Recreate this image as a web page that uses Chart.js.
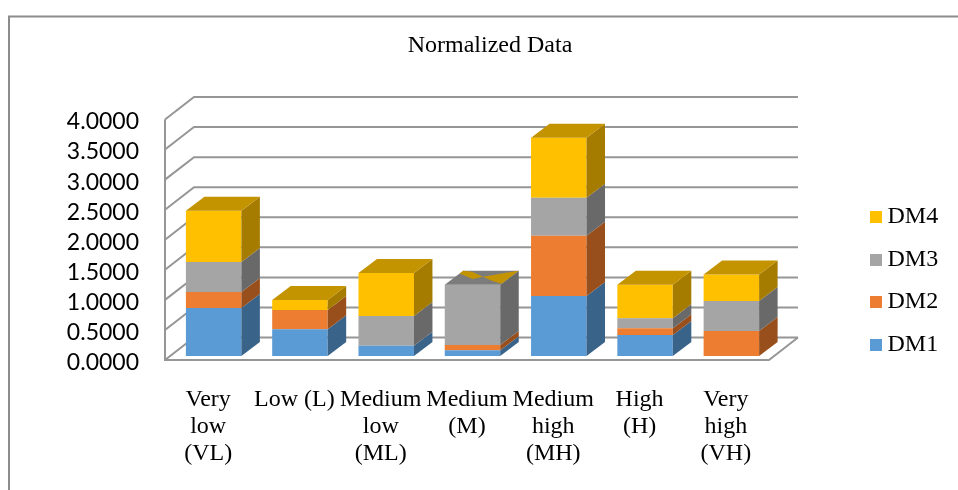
<!DOCTYPE html>
<html>
<head>
<meta charset="utf-8">
<title>Normalized Data</title>
<script src="https://cdn.jsdelivr.net/npm/chart.js@4/dist/chart.umd.min.js"></script>
<style>
  html, body { margin: 0; padding: 0; background: #fff; overflow: hidden; }
  canvas { display: block; }
</style>
</head>
<body>
<canvas id="chart" width="958" height="490"></canvas>
<script>
// values
const categories = [
  ['Very', 'low', '(VL)'],
  'Low (L)',
  ['Medium', 'low', '(ML)'],
  ['Medium', '(M)'],
  ['Medium', 'high', '(MH)'],
  ['High', '(H)'],
  ['Very', 'high', '(VH)']
];
const dm1 = [0.80, 0.444, 0.17, 0.095, 1.00, 0.35, 0];
const dm2 = [0.265, 0.32, 0, 0.088, 1.00, 0.11, 0.416];
const dm3 = [0.50, 0, 0.495, 1.003, 0.63, 0.167, 0.50];
const dm4 = [0.85, 0.167, 0.715, 0, 1.00, 0.56, 0.44];

const FRONT = ['#5B9BD5', '#ED7D31', '#A5A5A5', '#FFC000'];
const SIDE = ['#3A638A', '#994F1C', '#696969', '#A67C00'];
const TOP = ['#4A7EAE', '#BE6427', '#7C7C7C', '#C49300'];

const GRID_COLOR = '#969696';
const SERIF = '"Liberation Serif", serif';

// small square used as legend marker
function swatch(color) {
  const c = document.createElement('canvas');
  c.width = 14;
  c.height = 12;
  const g = c.getContext('2d');
  g.fillStyle = color;
  g.fillRect(2, 0, 12, 12);
  return c;
}

function quad(ctx, color, pts) {
  ctx.fillStyle = color;
  ctx.beginPath();
  ctx.moveTo(pts[0][0], pts[0][1]);
  for (let i = 1; i < pts.length; i++) ctx.lineTo(pts[i][0], pts[i][1]);
  ctx.closePath();
  ctx.fill();
}

// outer frame, only left and top are visible in the picture
const framePlugin = {
  id: 'frame',
  beforeDraw(chart) {
    const ctx = chart.ctx;
    ctx.save();
    ctx.strokeStyle = '#8c8c8c';
    ctx.lineWidth = 2;
    ctx.beginPath();
    ctx.moveTo(9, 490);
    ctx.lineTo(9, 16.5);
    ctx.lineTo(958, 16.5);
    ctx.stroke();
    ctx.restore();
  }
};

// fake 3D: walls behind the bars, side and top faces on the bars
const DEPTH = { x: 29, y: -22.5 };
const BAR_SHIFT = { x: 5.5, y: -4 };
const BAR_DEPTH = { x: 18.5, y: -14 };

const box3dPlugin = {
  id: 'box3d',
  afterLayout(chart) {
    // move title and legend to where they sit in the reference
    const t = chart.titleBlock;
    t.left = 22;
    t.right = 958;
    const l = chart.legend;
    l.left = 856;
    l.right = 958;
    l.top = 186.5;
    l.bottom = 490;
  },
  beforeDatasetsDraw(chart) {
    const ctx = chart.ctx;
    const { left, right, bottom } = chart.chartArea;
    const y = chart.scales.y;
    ctx.save();
    ctx.strokeStyle = GRID_COLOR;
    ctx.lineWidth = 2;
    ctx.beginPath();
    y.ticks.forEach(t => {
      const py = y.getPixelForValue(t.value);
      ctx.moveTo(left, py);
      ctx.lineTo(left + DEPTH.x, py + DEPTH.y);
      ctx.lineTo(right + DEPTH.x, py + DEPTH.y);
    });
    ctx.moveTo(left, y.getPixelForValue(4));
    ctx.lineTo(left, bottom);
    ctx.lineTo(right, bottom);
    ctx.lineTo(right + DEPTH.x, bottom + DEPTH.y);
    ctx.stroke();
    ctx.restore();

    // bars stand in the middle of the floor
    ctx.save();
    ctx.translate(BAR_SHIFT.x, BAR_SHIFT.y);
  },
  afterDatasetsDraw(chart) {
    const ctx = chart.ctx;
    const d = BAR_DEPTH;
    const metas = chart.data.datasets.map((ds, i) => chart.getDatasetMeta(i));

    metas.forEach((meta, di) => {
      meta.data.forEach(bar => {
        const r = bar.x + bar.width / 2;
        quad(ctx, SIDE[di], [
          [r, bar.base],
          [r + d.x, bar.base + d.y],
          [r + d.x, bar.y + d.y],
          [r, bar.y]
        ]);
      });
    });

    categories.forEach((c, ci) => {
      let di = metas.length - 1;
      while (di > 0 && chart.data.datasets[di].data[ci] === 0) di--;
      const bar = metas[di].data[ci];
      // u runs along the bar front, v goes into the depth
      const lid = (u, v) => [
        bar.x - bar.width / 2 + u * bar.width + v * d.x,
        bar.y + v * d.y
      ];
      quad(ctx, TOP[di], [lid(0, 0), lid(1, 0), lid(1, 1), lid(0, 1)]);
      // DM4 is zero here, its lid fights with the DM3 lid in the picture
      if (di !== metas.length - 1) {
        quad(ctx, TOP[3], [lid(0, 1), lid(0.18, 0.93), lid(0.5, 0.57), lid(0.37, 0.4), lid(0, 0.8)]);
        quad(ctx, TOP[3], [lid(0.5, 0.57), lid(0.9, 0.93), lid(1, 1), lid(1, 0.07), lid(0.75, 0.29)]);
      }
    });
    ctx.restore();
  }
};

function makeDataset(label, values, i) {
  return {
    label: label,
    data: values,
    backgroundColor: FRONT[i],
    borderWidth: 0,
    clip: false,
    barPercentage: 0.643,
    categoryPercentage: 1
  };
}

new Chart(document.getElementById('chart'), {
  type: 'bar',
  data: {
    labels: categories,
    datasets: [
      makeDataset('DM1', dm1, 0),
      makeDataset('DM2', dm2, 1),
      makeDataset('DM3', dm3, 2),
      makeDataset('DM4', dm4, 3)
    ]
  },
  options: {
    responsive: false,
    animation: false,
    layout: { padding: { left: 0, right: 129, top: 0, bottom: 0 } },
    plugins: {
      title: {
        display: true,
        text: 'Normalized Data',
        color: '#000',
        font: { family: SERIF, size: 24, weight: 'normal' },
        padding: { top: 31, bottom: 59.7 }
      },
      legend: {
        position: 'right',
        align: 'start',
        reverse: true,
        maxWidth: 60,
        labels: {
          color: '#000',
          font: { family: SERIF, size: 24 },
          usePointStyle: true,
          pointStyleWidth: 1,
          boxHeight: 12,
          padding: 18.5,
          generateLabels(chart) {
            return chart.data.datasets.map((ds, i) => ({
              text: ds.label,
              pointStyle: swatch(FRONT[i]),
              fillStyle: FRONT[i],
              lineWidth: 0,
              hidden: false,
              datasetIndex: i
            }));
          }
        }
      },
      tooltip: { enabled: false }
    },
    scales: {
      x: {
        stacked: true,
        grid: { display: false, drawTicks: false },
        border: { display: false },
        afterFit(scale) { scale.height = 130; },
        ticks: {
          color: '#000',
          autoSkip: false,
          maxRotation: 0,
          minRotation: 0,
          padding: 26,
          font: { family: SERIF, size: 24, lineHeight: 1.125 }
        }
      },
      y: {
        stacked: true,
        min: 0,
        max: 4,
        grid: { display: false, drawTicks: false },
        border: { display: false },
        afterFit(scale) { scale.width = 165; },
        ticks: {
          stepSize: 0.5,
          autoSkip: false,
          labelOffset: 2.5,
          color: '#000',
          padding: 26,
          font: { family: 'Lato, sans-serif', size: 23 },
          callback: v => v.toFixed(4)
        }
      }
    }
  },
  plugins: [framePlugin, box3dPlugin]
});
</script>
</body>
</html>
